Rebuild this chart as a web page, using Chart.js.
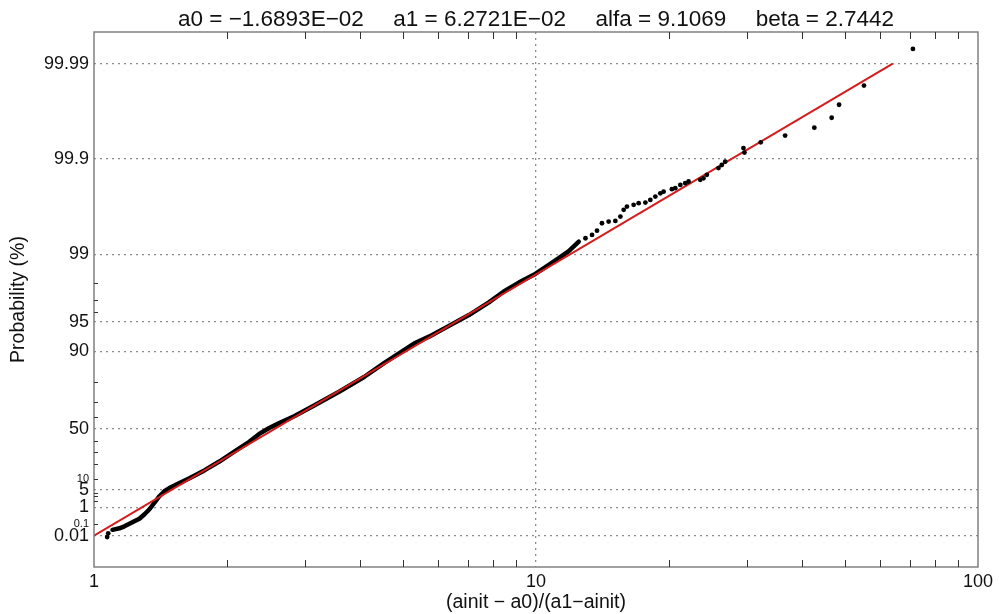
<!DOCTYPE html>
<html>
<head>
<meta charset="utf-8">
<script src="https://cdn.jsdelivr.net/npm/chart.js@4.4.0/dist/chart.umd.min.js"></script>
<style>
  html, body { margin: 0; padding: 0; background: #ffffff; }
  #wrap { width: 999px; height: 614px; position: relative; }
</style>
</head>
<body>
<div id="wrap"><canvas id="c" width="999" height="614"></canvas></div>
<script>
const FONT = "'Liberation Sans', Arial, Helvetica, sans-serif";

// Fitted parameters (shown in the title; alfa/beta define the red fit line)
const a0 = -1.6893e-2;
const a1 = 6.2721e-2;
const alfa = 9.1069;
const beta = 2.7442;

// Sample: lowest isolated points
const lowX = [1.071, 1.077];
const lowP = [0.008, 0.018];

// Sample: dense body of the distribution (x, cumulative probability in %)
const bodyX = [1.101, 1.142, 1.172, 1.203, 1.234, 1.267, 1.301, 1.335, 1.370, 1.406,
               1.443, 1.481, 1.561, 1.644, 1.777, 1.921, 2.077, 2.245, 2.365, 2.491,
               2.625, 2.837, 3.148, 3.585, 4.083, 4.531, 4.899, 5.296, 5.727, 6.354,
               7.050, 7.823, 8.457, 9.144, 9.886, 10.688, 11.259, 11.861, 12.497];
const bodyP = [0.036, 0.048, 0.069, 0.106, 0.159, 0.232, 0.434, 0.808, 1.629, 2.969,
               4.434, 5.60, 7.73, 10.29, 15.24, 21.90, 30.23, 38.96, 45.90, 50.91,
               54.90, 60.16, 67.62, 75.53, 82.17, 86.88, 89.51, 91.64, 92.87, 94.46,
               95.71, 96.83, 97.55, 98.02, 98.36, 98.71, 98.90, 99.07, 99.26];

// Sample: upper tail, individual points
const tailX = [12.94, 13.39, 13.74, 14.10, 14.60, 15.12, 15.52, 15.79, 16.06, 16.63,
               17.07, 17.68, 18.14, 18.62, 19.11, 19.44, 20.30, 20.66, 21.21, 21.76,
               22.14, 23.53, 23.93, 24.35, 25.87, 26.32, 26.79, 29.47, 29.62, 32.24,
               36.61, 42.63, 46.66, 48.49, 55.21, 71.25];
const tailP = [99.319, 99.371, 99.433, 99.526, 99.544, 99.552, 99.596, 99.657, 99.683, 99.696,
               99.708, 99.712, 99.730, 99.751, 99.770, 99.779, 99.792, 99.797, 99.812, 99.820,
               99.827, 99.834, 99.840, 99.853, 99.875, 99.884, 99.893, 99.923, 99.914, 99.933,
               99.943, 99.953, 99.963, 99.973, 99.983, 99.993];

// Probability axis ticks (%)
const probLabeled = [0.01, 0.1, 1, 5, 10, 50, 90, 95, 99, 99.9, 99.99];
const probSmallLabel = [0.1, 10];
const probMinor = [2, 3, 4, 20, 30, 40, 60, 70, 80, 96, 97, 98];

// x axis ticks
const xLabeled = [1, 10, 100];
const xMinor = [2, 3, 4, 5, 6, 7, 8, 9, 20, 30, 40, 50, 60, 70, 80, 90];

// Fit line runs from x = 1 up to the 99.99 % level
const fitStartX = 1;
const fitEndP = 99.99;

// Gumbel reduced variate used as the linear coordinate of the probability axis
const gumbel = p => -Math.log(-Math.log(p / 100));
const fitProb = x => 100 * Math.exp(-alfa * Math.pow(x, -beta));
const fitEndX = Math.pow(-Math.log(fitEndP / 100) / alfa, -1 / beta);

const yMin = -2.970, yMax = 9.977;

const fmtE = v => {
  const [m, e] = v.toExponential(4).split('e');
  const en = parseInt(e, 10);
  const es = (en < 0 ? '-' : '+') + String(Math.abs(en)).padStart(2, '0');
  return (m + 'E' + es).replace(/-/g, '\u2212');
};
const fmtF = v => v.toFixed(4);
const GAP = '    \u2009';
const titleText = 'a0 = ' + fmtE(a0) + GAP + 'a1 = ' + fmtE(a1) + GAP +
                  'alfa = ' + fmtF(alfa) + GAP + 'beta = ' + fmtF(beta);

const toPts = (xs, ps) => xs.map((x, i) => ({ x: x, y: gumbel(ps[i]) }));

const yTickList = probLabeled.map(p => ({ p, label: String(p), small: probSmallLabel.includes(p), grid: !probSmallLabel.includes(p), inner: probSmallLabel.includes(p) }))
  .concat(probMinor.map(p => ({ p, label: '', small: false, grid: false, inner: true })))
  .sort((a, b) => a.p - b.p);

const xTickList = xLabeled.map(v => ({ v, label: String(v), grid: v === 10, inner: false }))
  .concat(xMinor.map(v => ({ v, label: '', grid: false, inner: true })))
  .sort((a, b) => a.v - b.v);

// Plot frame and inward-pointing tick marks
const frameTicks = {
  id: 'frameTicks',
  afterDraw(chart) {
    const { ctx, chartArea: a, scales } = chart;
    const xs = scales.x, ys = scales.y;
    ctx.save();
    ctx.strokeStyle = '#808080';
    ctx.lineWidth = 1.5;
    ctx.strokeRect(a.left, a.top, a.right - a.left, a.bottom - a.top);
    ctx.strokeStyle = '#333333';
    ctx.lineWidth = 1;
    ctx.beginPath();
    xs.ticks.forEach(t => {
      if (!t.inner) return;
      const px = Math.round(xs.getPixelForValue(t.value)) + 0.5;
      ctx.moveTo(px, a.bottom); ctx.lineTo(px, a.bottom - 7);
      ctx.moveTo(px, a.top); ctx.lineTo(px, a.top + 7);
    });
    ys.ticks.forEach(t => {
      if (!t.inner) return;
      const py = Math.round(ys.getPixelForValue(t.value)) + 0.5;
      ctx.moveTo(a.left, py); ctx.lineTo(a.left + 4, py);
    });
    ctx.stroke();
    ctx.restore();
  }
};

new Chart(document.getElementById('c'), {
  type: 'scatter',
  data: {
    datasets: [
      {
        label: 'fit',
        data: [
          { x: fitStartX, y: gumbel(fitProb(fitStartX)) },
          { x: fitEndX, y: gumbel(fitEndP) }
        ],
        showLine: true,
        borderColor: '#d41c1c',
        borderWidth: 2,
        pointRadius: 0,
        order: 1
      },
      {
        label: 'body',
        data: toPts(bodyX, bodyP),
        showLine: true,
        borderColor: '#000000',
        borderWidth: 4.5,
        borderJoinStyle: 'round',
        borderCapStyle: 'round',
        pointRadius: 0,
        order: 2
      },
      {
        label: 'tails',
        data: toPts(lowX, lowP).concat(toPts(tailX, tailP)),
        showLine: false,
        backgroundColor: '#000000',
        borderWidth: 0,
        pointRadius: 2.4,
        order: 0
      }
    ]
  },
  options: {
    responsive: false,
    animation: false,
    devicePixelRatio: 1,
    layout: { padding: { left: 0, right: 21, top: 0, bottom: 0 } },
    plugins: {
      legend: { display: false },
      tooltip: { enabled: false },
      title: { display: false }
    },
    scales: {
      x: {
        type: 'logarithmic',
        min: 1,
        max: 100,
        afterBuildTicks: s => { s.ticks = xTickList.map(t => ({ value: t.v, label: t.label, grid: t.grid, inner: t.inner })); },
        afterFit: s => { s.height = 47; },
        ticks: {
          autoSkip: false,
          maxRotation: 0,
          padding: 4,
          color: '#111111',
          font: { family: FONT, size: 18 },
          callback: (v, i) => xTickList[i].label
        },
        grid: {
          drawTicks: false,
          lineWidth: 1.3,
          color: c => (c.tick && c.tick.grid) ? '#8c8c8c' : 'rgba(0,0,0,0)'
        },
        border: { display: false, dash: [2, 4] },
        title: {
          display: true,
          text: '(ainit \u2212 a0)/(a1\u2212ainit)',
          color: '#111111',
          font: { family: FONT, size: 19.5 },
          padding: { top: 0, bottom: 0 }
        }
      },
      // top axis carries the parameter line, centred over the plot area
      top: {
        type: 'logarithmic',
        position: 'top',
        min: 1,
        max: 100,
        afterFit: s => { s.height = 32; },
        ticks: { display: false },
        grid: { display: false, drawTicks: false },
        border: { display: false },
        title: {
          display: true,
          text: titleText,
          color: '#111111',
          font: { family: FONT, size: 22.5 },
          padding: { top: 6, bottom: 0 }
        }
      },
      y: {
        type: 'linear',
        min: yMin,
        max: yMax,
        afterBuildTicks: s => { s.ticks = yTickList.map(t => ({ value: gumbel(t.p), label: t.label, small: t.small, grid: t.grid, inner: t.inner })); },
        afterFit: s => { s.width = 94; },
        ticks: {
          autoSkip: false,
          padding: 5,
          color: '#111111',
          font: c => ({ family: FONT, size: (c.tick && c.tick.small) ? 11 : 18 }),
          callback: (v, i) => yTickList[i].label
        },
        grid: {
          drawTicks: false,
          lineWidth: 1.3,
          color: c => (c.tick && c.tick.grid) ? '#8c8c8c' : 'rgba(0,0,0,0)'
        },
        border: { display: false, dash: [2, 4] },
        title: {
          display: true,
          text: 'Probability (%)',
          color: '#111111',
          font: { family: FONT, size: 19.5 },
          padding: { top: 7, bottom: 0 }
        }
      }
    }
  },
  plugins: [frameTicks]
});
</script>
</body>
</html>
